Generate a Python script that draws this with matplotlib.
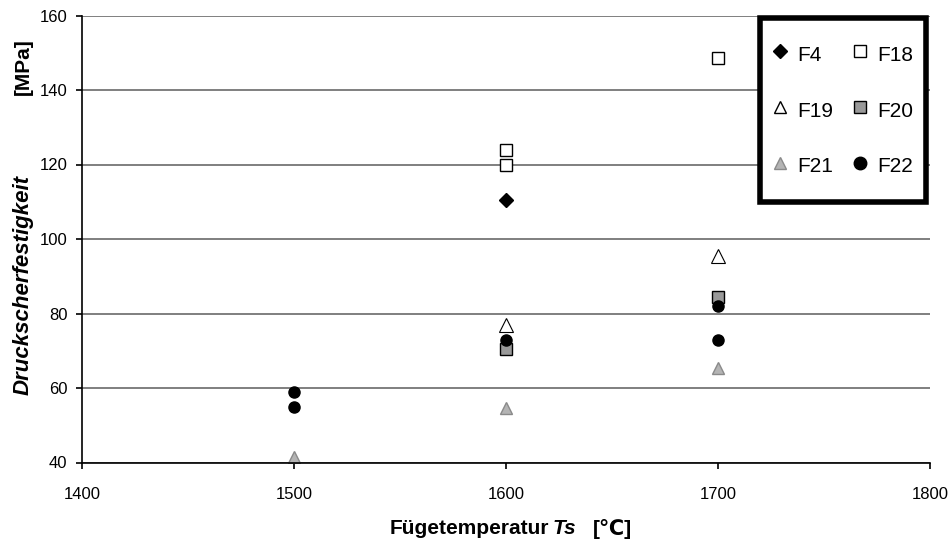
import matplotlib.pyplot as plt
from matplotlib.lines import Line2D
from matplotlib.patches import Rectangle

plt.rcParams['font.family'] = ['Liberation Sans', 'DejaVu Sans']

# values
f4_x = [1600]
f4_y = [110.5]
f18_x = [1600, 1600, 1700]
f18_y = [124, 120, 148.5]
f19_x = [1600, 1700]
f19_y = [77, 95.5]
f20_x = [1600, 1700]
f20_y = [70.5, 84.5]
f21_x = [1500, 1600, 1700]
f21_y = [41.5, 54.5, 65.5]
f22_x = [1500, 1500, 1600, 1700, 1700]
f22_y = [59, 55, 73, 82, 73]

xticks = [1400, 1500, 1600, 1700, 1800]
yticks = [40, 60, 80, 100, 120, 140, 160]

W, H = 952, 540
fig = plt.figure(figsize=(W / 100, H / 100), dpi=100)
ax = fig.add_axes([82 / W, 77.5 / H, 848 / W, 447 / H])

ax.set_xlim(1400, 1800)
ax.set_ylim(40, 160)
ax.set_xticks(xticks)
ax.set_yticks(yticks)
ax.yaxis.grid(True, color='#6a6a6a', linewidth=1.2)
ax.set_axisbelow(True)
for s in ['top', 'right']:
    ax.spines[s].set_visible(False)
for s in ['left', 'bottom']:
    ax.spines[s].set_linewidth(1.2)
ax.tick_params(axis='x', length=4.5, width=1.2, pad=13, labelsize=12)
ax.tick_params(axis='y', length=4.5, width=1.2, pad=6, labelsize=12)

ms = 8
ax.plot(f21_x, f21_y, '^', color='#b4b4b4', mec='#8a8a8a', ms=ms + 1, label='F21')
ax.plot(f20_x, f20_y, 's', color='#999999', mec='black', ms=ms, label='F20')
ax.plot(f19_x, f19_y, '^', color='white', mec='black', mew=0.8, ms=ms + 2, label='F19')
ax.plot(f22_x, f22_y, 'o', color='black', ms=ms, label='F22')
ax.plot(f18_x, f18_y, 's', color='white', mec='black', mew=1, ms=ms + 1, label='F18')
ax.plot(f4_x, f4_y, 'D', color='black', ms=ms - 1, label='F4')

def handle(marker, fc, ec, size):
    return Line2D([], [], linestyle='', marker=marker, color=fc, mec=ec, ms=size)

# legend box drawn separately so the padding can follow the original
box = Rectangle((760 / W, 1 - 202 / H), 166 / W, 184 / H, transform=fig.transFigure,
                facecolor='white', edgecolor='black', linewidth=4, zorder=4)
fig.add_artist(box)

handles = [handle('D', 'black', 'black', 7), handle('^', 'white', 'black', 9),
           handle('^', '#b4b4b4', '#8a8a8a', 9), handle('s', 'white', 'black', 9),
           handle('s', '#999999', 'black', 9), handle('o', 'black', 'black', 9)]
labels = ['F4', 'F19', 'F21', 'F18', 'F20', 'F22']
leg = fig.legend(handles, labels, ncol=2, loc='upper left',
                 bbox_to_anchor=(776 / W, 1 - 42 / H), fontsize=15,
                 frameon=False, labelspacing=1.52,
                 handleheight=1.4, handletextpad=0.66, columnspacing=1.1,
                 handlelength=0.35, borderpad=0, borderaxespad=0)
leg.set_zorder(5)

# y label: italic word plus unit
fig.text(23 / W, 1 - 285 / H, 'Druckscherfestigkeit', rotation=90,
         ha='center', va='center', fontsize=16, fontweight='bold', fontstyle='italic')
fig.text(23 / W, 1 - 67 / H, '[MPa]', rotation=90,
         ha='center', va='center', fontsize=15, fontweight='bold')

# x label in three pieces
ty = 1 - 529 / H
fig.text(390 / W, ty, 'Fügetemperatur', ha='left', va='center', fontsize=15, fontweight='bold')
fig.text(553 / W, ty, 'Ts', ha='left', va='center', fontsize=15, fontweight='bold', fontstyle='italic')
fig.text(593 / W, ty, '[℃]', ha='left', va='center', fontsize=15, fontweight='bold')

fig.savefig('out.png', dpi=100)
